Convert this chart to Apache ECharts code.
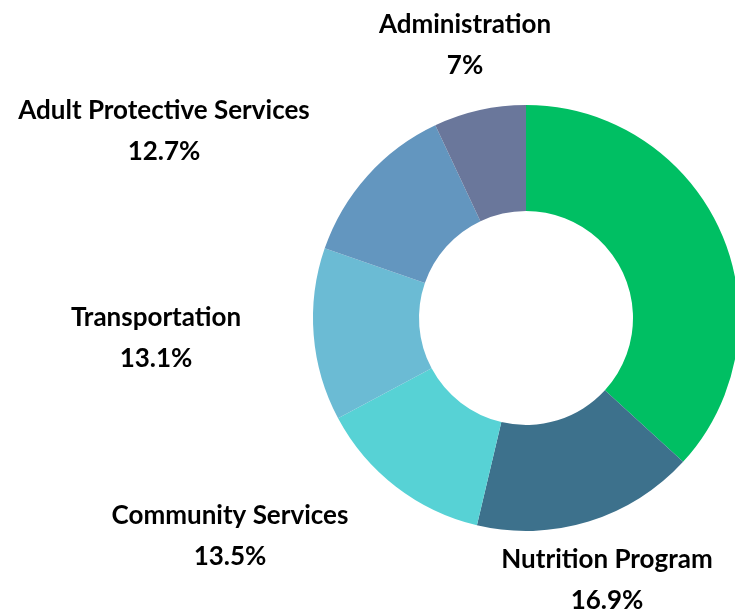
<!DOCTYPE html>
<html>
<head>
<meta charset="utf-8">
<script src="https://cdn.jsdelivr.net/npm/echarts@6/dist/echarts.min.js"></script>
<style>
  html, body { margin: 0; padding: 0; background: #fff; }
  #chart { width: 735px; height: 611px; }
</style>
</head>
<body>
<div id="chart"></div>
<script>
// slice order: clockwise from 12 o'clock
const categories = ['Senior Services', 'Nutrition Program', 'Community Services', 'Transportation', 'Adult Protective Services', 'Administration']
const shares = [36.8, 16.9, 13.5, 13.1, 12.7, 7]
const showLabel = [false, true, true, true, true, true]

const colors = ['#00bf63', '#3d718c', '#57d2d5', '#6bbbd4', '#6396bf', '#6a779b']
// label centres (px), where the original placed them
const labelPos = [[0, 0], [607, 580], [230, 536], [156, 338], [164, 131], [465, 45]]

const chartIns = echarts.init(document.getElementById('chart'))

const option = {
  backgroundColor: '#fff',
  animation: false,
  series: [
    {
      type: 'pie',
      center: [526, 318],
      radius: [107, 213],
      startAngle: 90,
      clockwise: true,
      data: categories.map((name, i) => ({
        name,
        value: shares[i],
        itemStyle: { color: colors[i] },
        label: { show: showLabel[i] }
      })),
      label: {
        position: 'outside',
        formatter: p => p.name + '\n' + p.value + '%',
        color: '#000',
        fontFamily: 'Lato',
        fontWeight: 'bold',
        fontSize: 26,
        lineHeight: 41,
        align: 'center',
        overflow: 'none',
        width: 400
      },
      labelLine: { show: false },
      labelLayout: p => ({
        x: labelPos[p.dataIndex][0],
        y: labelPos[p.dataIndex][1],
        align: 'center',
        verticalAlign: 'middle'
      }),
      itemStyle: { borderWidth: 0 }
    }
  ]
}
chartIns.setOption(option)
</script>
</body>
</html>
